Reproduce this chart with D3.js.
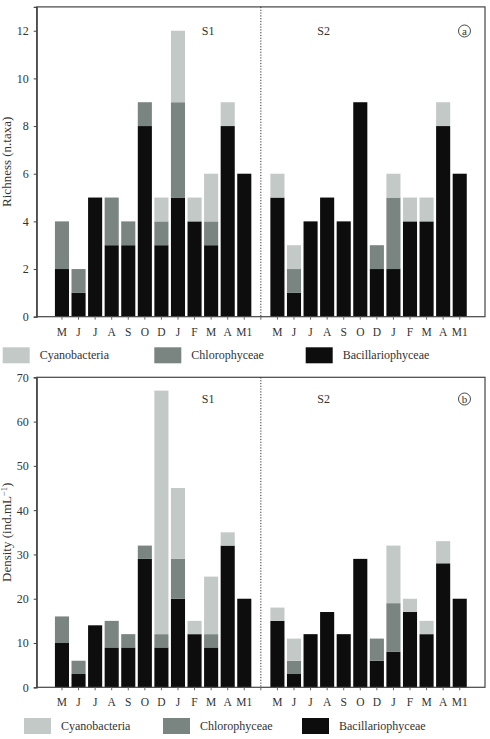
<!DOCTYPE html>
<html><head><meta charset="utf-8">
<script src="https://cdn.jsdelivr.net/npm/d3@7"></script>
<style>body{margin:0;background:#fff}svg{display:block}text{font-family:"Liberation Serif","DejaVu Serif",serif;fill:#333}</style>
</head><body><svg id="c" width="490" height="739"></svg>
<script>
const months = ["M","J","J","A","S","O","D","J","F","M","A","M1"];
const sites = ["S1","S2"];
const groups = ["Bacillariophyceae","Chlorophyceae","Cyanobacteria"];
const legendOrder = ["Cyanobacteria","Chlorophyceae","Bacillariophyceae"];
const colors = {Cyanobacteria:"#c3c9c7", Chlorophyceae:"#7a8480", Bacillariophyceae:"#0d0d0d"};

// Richness (n.taxa)
const richS1Bac = [2,1,5,3,3,8,3,5,4,3,8,6];
const richS1Chl = [2,1,0,2,1,1,1,4,0,1,0,0];
const richS1Cya = [0,0,0,0,0,0,1,3,1,2,1,0];
const richS2Bac = [5,1,4,5,4,9,2,2,4,4,8,6];
const richS2Chl = [0,1,0,0,0,0,1,3,0,0,0,0];
const richS2Cya = [1,1,0,0,0,0,0,1,1,1,1,0];
const richTicks = [0,2,4,6,8,10,12];

// Density (ind.mL-1)
const densS1Bac = [10,3,14,9,9,29,9,20,12,9,32,20];
const densS1Chl = [6,3,0,6,3,3,3,9,0,3,0,0];
const densS1Cya = [0,0,0,0,0,0,55,16,3,13,3,0];
const densS2Bac = [15,3,12,17,12,29,6,8,17,12,28,20];
const densS2Chl = [0,3,0,0,0,0,5,11,0,0,0,0];
const densS2Cya = [3,5,0,0,0,0,0,13,3,3,5,0];
const densTicks = [0,10,20,30,40,50,60,70];

const svg = d3.select("#c");

function buildRows(b1,c1,y1,b2,c2,y2){
  const rows=[];
  months.forEach((m,i)=>rows.push({slot:"S1-"+i,label:m,Bacillariophyceae:b1[i],Chlorophyceae:c1[i],Cyanobacteria:y1[i]}));
  rows.push({slot:"gap",label:"",Bacillariophyceae:0,Chlorophyceae:0,Cyanobacteria:0});
  months.forEach((m,i)=>rows.push({slot:"S2-"+i,label:m,Bacillariophyceae:b2[i],Chlorophyceae:c2[i],Cyanobacteria:y2[i]}));
  return rows;
}

function panel(opt){
  const {rows, top, bottom, ymax, ticks, ylabel, ylabelSup, letter, legendY, legendX} = opt;
  const left=36.7, right=485;
  const x = d3.scaleBand().domain(rows.map(r=>r.slot)).range([left,right]).paddingInner(0.15).paddingOuter(1.1);
  const y = d3.scaleLinear().domain([0,ymax]).range([bottom,top]);
  const g = svg.append("g");
  const stack = d3.stack().keys(groups)(rows);
  g.selectAll("g.layer").data(stack).join("g").attr("fill",d=>colors[d.key])
    .selectAll("rect").data(d=>d.filter(p=>p.data.slot!=="gap" && p[1]>p[0])).join("rect")
    .attr("x",d=>x(d.data.slot)).attr("width",x.bandwidth())
    .attr("y",d=>y(d[1])).attr("height",d=>y(d[0])-y(d[1]));
  // frame
  g.append("rect").attr("x",left).attr("y",top).attr("width",right-left).attr("height",bottom-top)
    .attr("fill","none").attr("stroke","#444").attr("stroke-width",1.2);
  // y axis
  const ya = g.append("g").attr("transform",`translate(${left},0)`)
    .call(d3.axisLeft(y).tickValues(ticks).tickSize(3).tickPadding(5).tickFormat(d3.format("d")));
  ya.select(".domain").attr("stroke","#444").attr("stroke-width",1.2);
  ya.selectAll(".tick line").attr("stroke","#444");
  ya.selectAll("text").style("font-family","Liberation Serif").style("font-size","12px").attr("fill","#444");
  // x axis
  const xa = g.append("g").attr("transform",`translate(0,${bottom})`)
    .call(d3.axisBottom(x).tickSize(3).tickPadding(8).tickFormat(s=>rows.find(r=>r.slot===s).label));
  xa.select(".domain").remove();
  xa.selectAll(".tick line").attr("stroke","#666");
  xa.selectAll("text").style("font-family","Liberation Serif").style("font-size","11.5px").attr("fill","#444");
  // divider
  const cx = x("gap")+x.bandwidth()/2;
  g.append("line").attr("x1",cx).attr("x2",cx).attr("y1",top).attr("y2",bottom)
    .attr("stroke","#333").attr("stroke-dasharray","1.2,1.6").attr("stroke-width",1);
  // site labels
  const s1c = (x("S1-0")+x("S1-11"))/2+x.bandwidth()/2;
  const s2c = (x("S2-0")+x("S2-11"))/2+x.bandwidth()/2;
  const sy = opt.siteY;
  g.append("text").attr("x",s1c+55).attr("y",sy).attr("text-anchor","middle").style("font-size","12px").attr("fill","#333").text(sites[0]);
  g.append("text").attr("x",s2c-45).attr("y",sy).attr("text-anchor","middle").style("font-size","12px").attr("fill","#333").text(sites[1]);
  g.append("circle").attr("cx",464.5).attr("cy",sy-4).attr("r",6).attr("fill","none").attr("stroke","#333").attr("stroke-width",0.9);
  g.append("text").attr("x",464.5).attr("y",sy).attr("text-anchor","middle").style("font-size","11px").attr("fill","#333").text(letter);
  // y label
  const lt = g.append("text").attr("transform",`translate(11,${(top+bottom)/2}) rotate(-90)`)
    .attr("text-anchor","middle").style("font-size","13px").attr("fill","#444").text(ylabel);
  if(ylabelSup){ lt.append("tspan").attr("dy",-4).style("font-size","8.5px").text(ylabelSup); lt.append("tspan").attr("dy",4).text(")"); }
  // legend
  legendOrder.forEach((k,i)=>{
    const lx = legendX[i];
    g.append("rect").attr("x",lx).attr("y",legendY-8).attr("width",27).attr("height",16).attr("fill",colors[k]);
    g.append("text").attr("x",lx+37).attr("y",legendY+4).style("font-size","12px").attr("fill","#444").text(k);
  });
}

panel({rows:buildRows(richS1Bac,richS1Chl,richS1Cya,richS2Bac,richS2Chl,richS2Cya), top:6.9, bottom:316.7, ymax:13, ticks:richTicks,
  ylabel:"Richness (n.taxa)", letter:"a", siteY:35, legendY:355.3, legendX:[2.7,154.3,305.7]});
panel({rows:buildRows(densS1Bac,densS1Chl,densS1Cya,densS2Bac,densS2Chl,densS2Cya), top:377.3, bottom:687.3, ymax:70, ticks:densTicks,
  ylabel:"Density (ind.mL", ylabelSup:"−1", letter:"b", siteY:403, legendY:726, legendX:[24,163,302]});
</script></body></html>
